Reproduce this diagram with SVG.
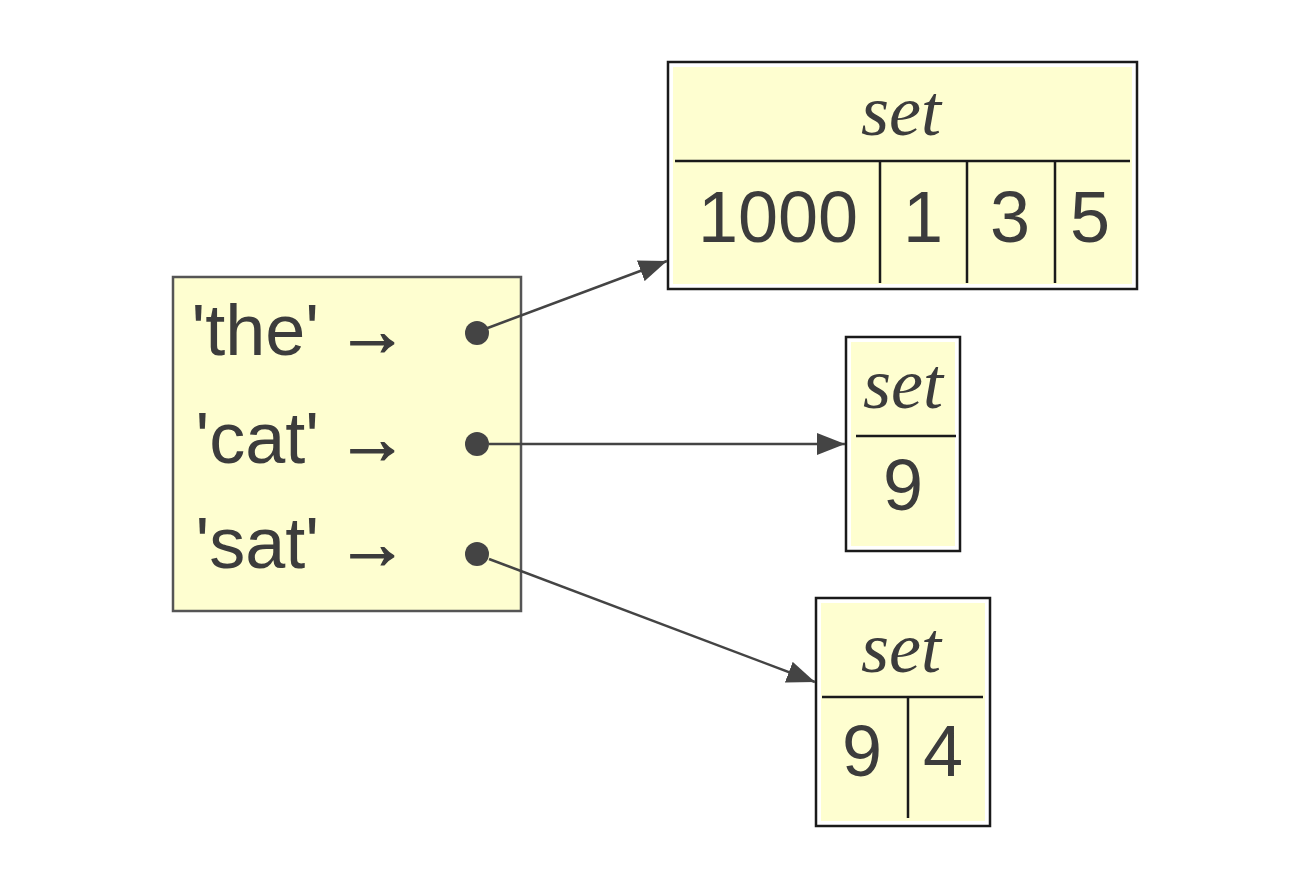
<svg xmlns="http://www.w3.org/2000/svg" width="1302" height="876" viewBox="0 0 1302 876">
<style>
.outer{fill:#ffffff;stroke:#1a1a1a;stroke-width:2.5}
.inner{fill:#fefed0;stroke:none}
.div{stroke:#1a1a1a;stroke-width:2.5;fill:none}
.ital{font-family:"Liberation Serif",serif;font-style:italic;font-size:72px;fill:#3c3c3c;text-anchor:middle}
.num{font-family:"Liberation Sans",Arial,sans-serif;font-size:72px;fill:#3c3c3c;text-anchor:middle}
.key{font-family:"Liberation Sans",Arial,sans-serif;font-size:72px;fill:#3c3c3c}
.arr{stroke:#3c3c3c;stroke-width:1.5}
.edge{stroke:#444;stroke-width:2.5;fill:none;marker-end:url(#ah)}
.dot{fill:#444}
</style>
<defs>
<marker id="ah" markerUnits="userSpaceOnUse" markerWidth="30" markerHeight="22" refX="28" refY="11" orient="auto">
<path d="M0,0 L28,11 L0,22 z" fill="#444"/>
</marker>
</defs>
<rect width="1302" height="876" fill="#ffffff"/>
<g id="dict">
<rect x="173" y="277" width="348" height="334" fill="#fefed0" stroke="#555" stroke-width="2.5"/>
<text class="key" y="355"><tspan x="319" text-anchor="end">'the'</tspan><tspan class="arr" x="336" y="355">→</tspan></text>
<text class="key" y="463"><tspan x="319" text-anchor="end">'cat'</tspan><tspan class="arr" x="336" y="463">→</tspan></text>
<text class="key" y="568"><tspan x="319" text-anchor="end">'sat'</tspan><tspan class="arr" x="336" y="568">→</tspan></text>
<circle class="dot" cx="477" cy="333" r="12"/>
<circle class="dot" cx="477" cy="444" r="12"/>
<circle class="dot" cx="477" cy="554" r="12"/>
</g>
<g id="set1">
<rect class="outer" x="668" y="62" width="469" height="227"/>
<rect class="inner" x="673" y="67" width="459" height="217"/>
<line class="div" x1="675" y1="161" x2="1130" y2="161"/>
<line class="div" x1="880" y1="161" x2="880" y2="283"/>
<line class="div" x1="967" y1="161" x2="967" y2="283"/>
<line class="div" x1="1055" y1="161" x2="1055" y2="283"/>
<text class="ital" x="901" y="135">set</text>
<text class="num" x="778" y="242">1000</text>
<text class="num" x="923" y="242">1</text>
<text class="num" x="1010" y="242">3</text>
<text class="num" x="1090" y="242">5</text>
</g>
<g id="set2">
<rect class="outer" x="846" y="337" width="114" height="214"/>
<rect class="inner" x="851" y="342" width="104" height="204"/>
<line class="div" x1="856" y1="436" x2="956" y2="436"/>
<text class="ital" x="903" y="408">set</text>
<text class="num" x="903" y="510">9</text>
</g>
<g id="set3">
<rect class="outer" x="816" y="598" width="174" height="228"/>
<rect class="inner" x="821" y="603" width="164" height="218"/>
<line class="div" x1="822" y1="697" x2="983" y2="697"/>
<line class="div" x1="908" y1="697" x2="908" y2="818"/>
<text class="ital" x="901" y="672">set</text>
<text class="num" x="862" y="776">9</text>
<text class="num" x="943" y="776">4</text>
</g>
<g id="connectors">
<path class="edge" d="M485,329 L667,261"/>
<path class="edge" d="M489,444 L845,444"/>
<path class="edge" d="M489,559 L815,682"/>
</g>
</svg>
